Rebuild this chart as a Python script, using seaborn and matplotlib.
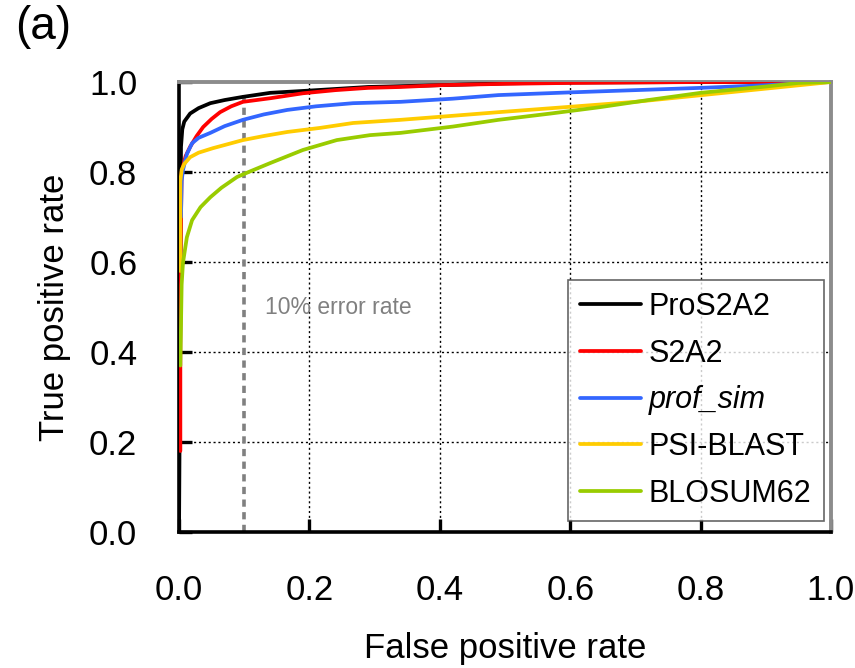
import pandas as pd
import matplotlib
matplotlib.use('Agg')
import matplotlib.pyplot as plt
import seaborn as sns

# ROC curves
methods = ['ProS2A2', 'S2A2', 'prof_sim', 'PSI-BLAST', 'BLOSUM62']
colors = ['#000000', '#ff0000', '#3366ff', '#ffcc00', '#99cc00']

pros2a2_fpr = [0, 0.002, 0.003, 0.005, 0.008, 0.017, 0.03, 0.048, 0.07, 0.098, 0.14, 0.2, 0.29, 0.4, 0.5, 0.6, 0.8, 1.0]
pros2a2_tpr = [0, 0.5, 0.856, 0.895, 0.912, 0.93, 0.942, 0.953, 0.96, 0.967, 0.976, 0.981, 0.989, 0.993, 0.997, 0.999, 1.0, 1.0]

s2a2_fpr = [0.002, 0.002, 0.004, 0.01, 0.017, 0.027, 0.037, 0.05, 0.063, 0.08, 0.098, 0.14, 0.19, 0.24, 0.29, 0.34, 0.4, 0.5, 0.6, 0.8, 1.0]
s2a2_tpr = [0.18, 0.6, 0.8, 0.835, 0.856, 0.88, 0.9, 0.918, 0.933, 0.946, 0.956, 0.964, 0.975, 0.982, 0.987, 0.989, 0.993, 0.996, 0.998, 1.0, 1.0]

profsim_fpr = [0.003, 0.004, 0.006, 0.012, 0.02, 0.03, 0.048, 0.07, 0.098, 0.13, 0.166, 0.21, 0.267, 0.34, 0.42, 0.49, 0.6, 0.7, 0.8, 0.9, 1.0]
profsim_tpr = [0.7, 0.78, 0.804, 0.84, 0.864, 0.876, 0.887, 0.902, 0.916, 0.928, 0.938, 0.946, 0.953, 0.956, 0.963, 0.971, 0.977, 0.982, 0.987, 0.993, 1.0]

psiblast_fpr = [0.002, 0.002, 0.004, 0.008, 0.017, 0.03, 0.052, 0.075, 0.098, 0.13, 0.166, 0.216, 0.267, 0.34, 0.42, 0.49, 0.6, 0.7, 0.85, 1.0]
psiblast_tpr = [0.58, 0.78, 0.805, 0.818, 0.833, 0.843, 0.853, 0.862, 0.871, 0.88, 0.889, 0.898, 0.909, 0.916, 0.925, 0.933, 0.945, 0.956, 0.978, 1.0]

blosum_fpr = [0.002, 0.004, 0.006, 0.012, 0.02, 0.033, 0.048, 0.065, 0.089, 0.11, 0.14, 0.19, 0.242, 0.293, 0.34, 0.42, 0.49, 0.57, 0.645, 0.72, 0.8, 0.9, 0.95, 1.0]
blosum_tpr = [0.37, 0.55, 0.598, 0.655, 0.693, 0.722, 0.744, 0.765, 0.789, 0.802, 0.82, 0.849, 0.871, 0.882, 0.887, 0.901, 0.916, 0.93, 0.944, 0.96, 0.976, 0.99, 0.998, 1.0]

ticks = [0.0, 0.2, 0.4, 0.6, 0.8, 1.0]
tick_labels = ['0.0', '0.2', '0.4', '0.6', '0.8', '1.0']

curves = {
    'ProS2A2': (pros2a2_fpr, pros2a2_tpr),
    'S2A2': (s2a2_fpr, s2a2_tpr),
    'prof_sim': (profsim_fpr, profsim_tpr),
    'PSI-BLAST': (psiblast_fpr, psiblast_tpr),
    'BLOSUM62': (blosum_fpr, blosum_tpr),
}
frames = []
for name in methods:
    fpr, tpr = curves[name]
    frames.append(pd.DataFrame({'fpr': fpr, 'tpr': tpr, 'method': name}))
df = pd.concat(frames, ignore_index=True)

sns.set_style('white')
plt.rcParams['font.family'] = ['Liberation Sans', 'DejaVu Sans']
plt.rcParams['text.color'] = 'black'
plt.rcParams['axes.labelcolor'] = 'black'
plt.rcParams['xtick.color'] = 'black'
plt.rcParams['ytick.color'] = 'black'

fig = plt.figure(figsize=(8.55, 6.68), dpi=100)
ax = fig.add_axes([0.2094, 0.2036, 0.7625, 0.6736])

# dotted grid drawn by hand so it stays under the curves
for t in ticks[1:-1]:
    ax.axhline(t, color='black', lw=1, dashes=(1.5, 2), zorder=1)
    ax.axvline(t, color='black', lw=1, dashes=(1.5, 2), zorder=1)

ax.plot([0.1, 0.1], [0, 0.98], color='#808080', lw=2.6, dashes=(2.0, 1.5), zorder=2)
ax.text(0.132, 0.5, '10% error rate', color='#808080', fontsize=16.5, va='center', ha='left')

sns.lineplot(data=df, x='fpr', y='tpr', hue='method', hue_order=methods,
             palette=colors, sort=False, estimator=None,
             lw=2.7, ax=ax, legend=False, zorder=3)

ax.set_xlim(0, 1)
ax.set_ylim(0, 1)
ax.set_xticks(ticks)
ax.set_xticklabels(tick_labels)
ax.set_yticks(ticks)
ax.set_yticklabels(tick_labels)
ax.tick_params(bottom=True, left=True, direction='in', length=9.5, width=2.4,
               color='black', labelcolor='black', labelsize=25, pad=30)
ax.set_xlabel('False positive rate', fontsize=25, labelpad=18, color='black')
ax.set_ylabel('True positive rate', fontsize=25, labelpad=13, color='black')

for side in ['left', 'bottom']:
    ax.spines[side].set_color('black')
    ax.spines[side].set_linewidth(2.6)
for side in ['top', 'right']:
    ax.spines[side].set_color('#8c8c8c')
    ax.spines[side].set_linewidth(2.8)

handles = [plt.Line2D([], [], color=c, lw=2.7) for c in colors]
leg = ax.legend(handles, methods, loc='lower right', bbox_to_anchor=(0.989, 0.024),
                borderaxespad=0, fontsize=22, frameon=True, fancybox=False,
                handlelength=2.0, handletextpad=0.25, labelspacing=0.55, borderpad=0.4)
leg.get_frame().set_edgecolor('#404040')
leg.get_frame().set_linewidth(1.2)
for txt in leg.get_texts():
    txt.set_color('black')
leg.get_texts()[2].set_fontstyle('italic')

fig.text(0.0175, 0.993, '(a)', fontsize=33, va='top', ha='left', color='black')

fig.savefig('out.png', dpi=100)
